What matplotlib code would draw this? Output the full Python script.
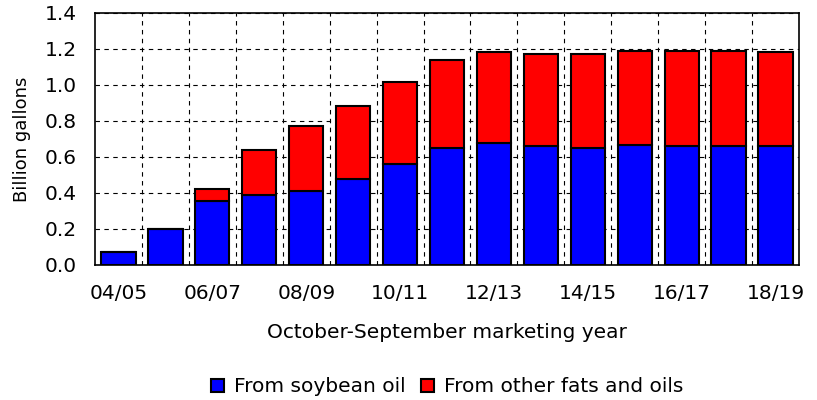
import matplotlib
matplotlib.use("Agg")
import matplotlib.pyplot as plt
import numpy as np

plt.rcParams['font.family'] = ['DejaVu Sans']

years = ['04/05', '05/06', '06/07', '07/08', '08/09', '09/10', '10/11', '11/12',
         '12/13', '13/14', '14/15', '15/16', '16/17', '17/18', '18/19']
soybean = [0.07, 0.20, 0.356, 0.389, 0.413, 0.476, 0.563, 0.65,
           0.676, 0.661, 0.65, 0.669, 0.661, 0.661, 0.661]
total = [0.075, 0.20, 0.424, 0.641, 0.772, 0.885, 1.017, 1.137,
         1.181, 1.172, 1.172, 1.191, 1.191, 1.191, 1.181]
other = [t - s for t, s in zip(total, soybean)]

FS = 14.5

fig = plt.figure(figsize=(8.17, 4.0), dpi=100)
ax = fig.add_axes([0.1163, 0.3375, 0.8617, 0.63])

x = np.arange(len(years))
w = 0.73
ax.bar(x, soybean, w, color='#0000ff', edgecolor='black', linewidth=1.5,
       label='From soybean oil', zorder=3)
ax.bar(x, other, w, bottom=soybean, color='#ff0000', edgecolor='black',
       linewidth=1.5, label='From other fats and oils', zorder=3)

ax.set_xlim(-0.5, len(years) - 0.5)
ax.set_ylim(0, 1.4)
yt = np.arange(0, 1.41, 0.2)
ax.set_yticks(yt)
ax.set_yticklabels([f'{v:.1f}' for v in yt])
ax.set_xticks(x[::2])
ax.set_xticklabels(years[::2])
ax.set_xticks(x[:-1] + 0.5, minor=True)

ax.tick_params(axis='both', labelsize=FS, length=0)
ax.tick_params(axis='x', which='minor', length=0)
ax.tick_params(axis='x', pad=14)
ax.tick_params(axis='y', pad=13)

ax.grid(axis='y', which='major', color='black', linestyle=(0, (4, 4)), linewidth=0.8, zorder=0)
ax.grid(axis='x', which='minor', color='black', linestyle=(0, (4, 4)), linewidth=0.8, zorder=0)
ax.set_axisbelow(True)
for sp in ax.spines.values():
    sp.set_linewidth(1.2)

ax.set_ylabel('Billion gallons', fontsize=13)
ax.yaxis.label.set_verticalalignment('center')
ax.yaxis.set_label_coords(-0.104, 0.5)
ax.set_xlabel('October-September marketing year', fontsize=FS)
ax.xaxis.label.set_verticalalignment('center')
ax.xaxis.set_label_coords(0.5, -0.266)

h, l = ax.get_legend_handles_labels()
fig.legend(h, l, loc='center', bbox_to_anchor=(0.547, 0.0325), ncol=2, frameon=False,
           fontsize=FS, handlelength=0.65, handleheight=0.65, handletextpad=0.5,
           columnspacing=0.75, borderpad=0, borderaxespad=0)

fig.savefig('out.png', dpi=100)
